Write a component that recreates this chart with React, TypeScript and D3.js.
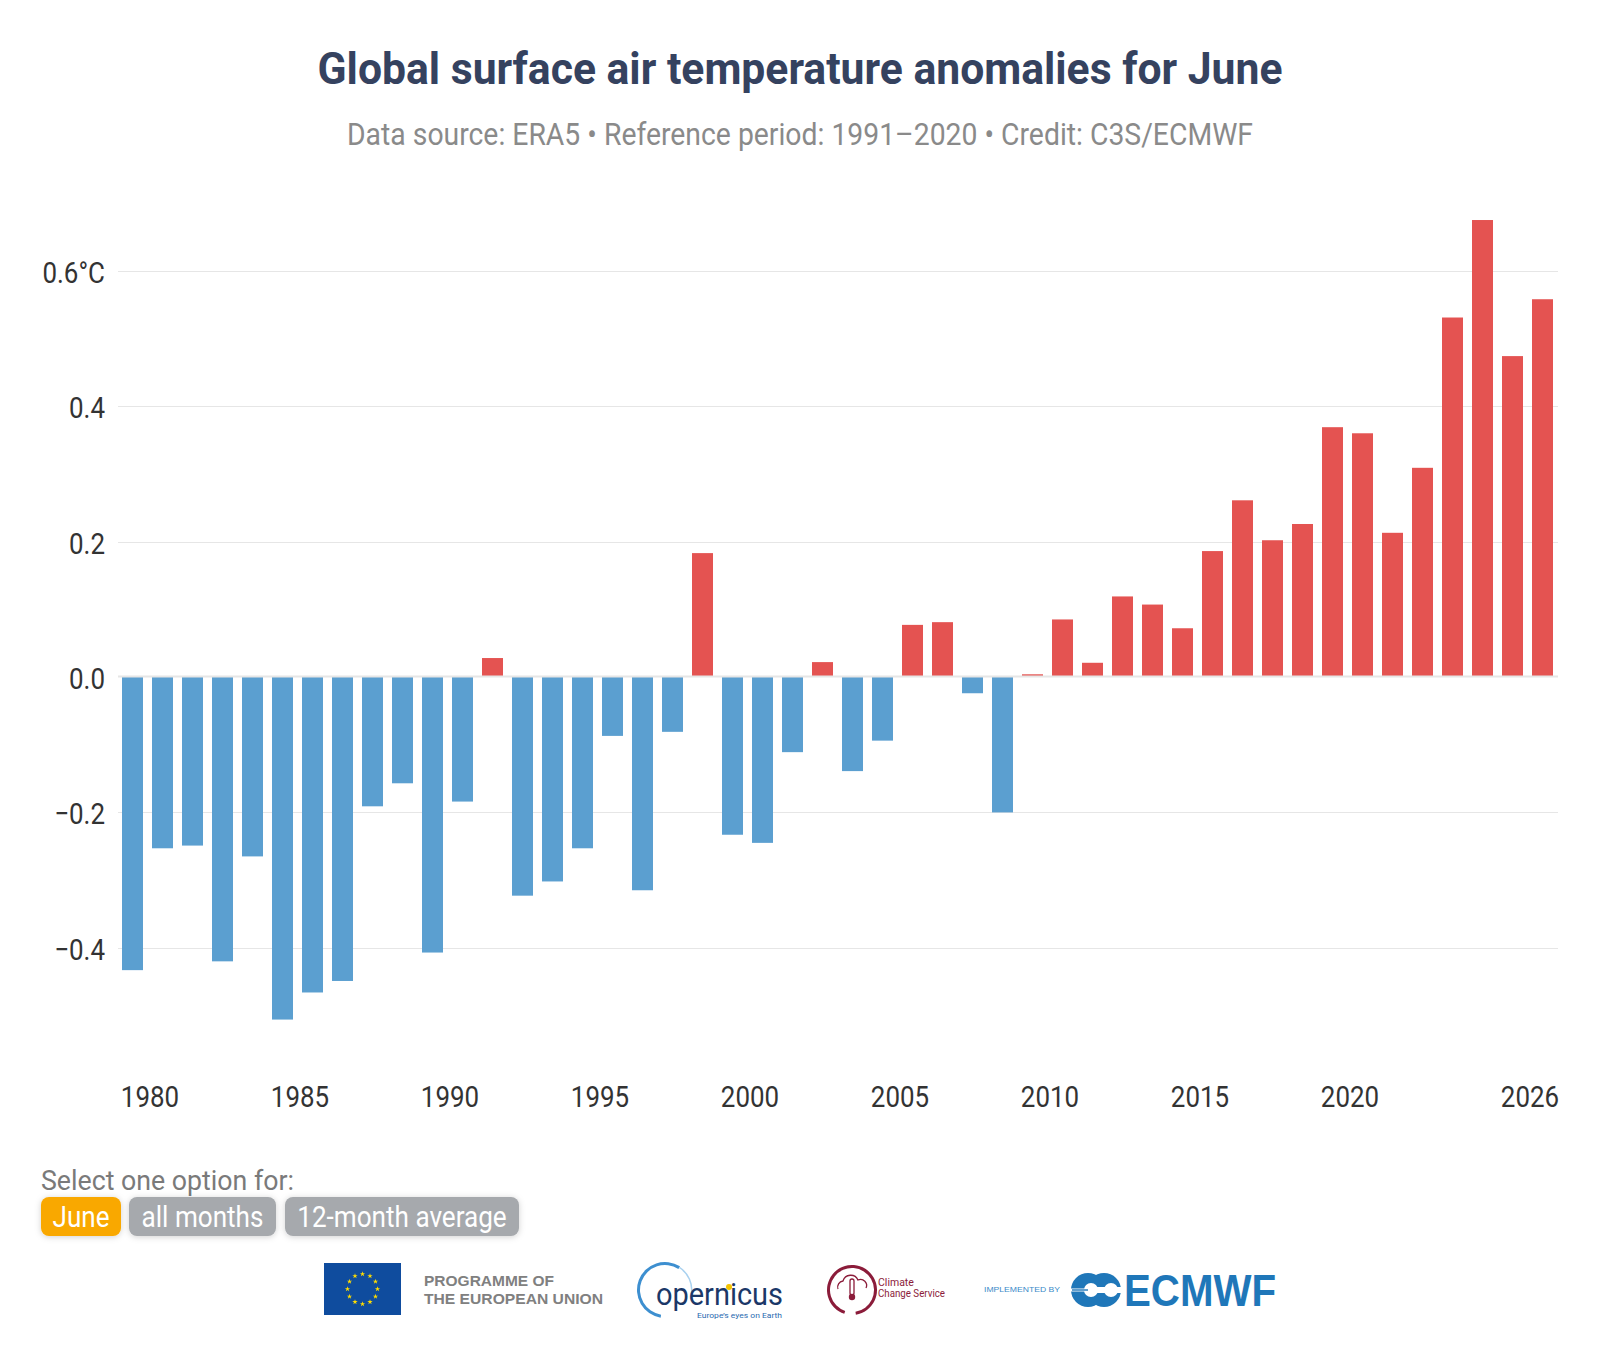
import React from 'react';
import * as d3 from 'd3';

// June global surface air temperature anomalies (°C, vs 1991–2020), ERA5
const years = [
  1979, 1980, 1981, 1982, 1983, 1984, 1985, 1986, 1987, 1988, 1989, 1990,
  1991, 1992, 1993, 1994, 1995, 1996, 1997, 1998, 1999, 2000,
  2001, 2002, 2003, 2004, 2005, 2006, 2007, 2008, 2009, 2010,
  2011, 2012, 2013, 2014, 2015, 2016, 2017, 2018, 2019, 2020,
  2021, 2022, 2023, 2024, 2025, 2026,
];
const anomalies = [
  -0.433, -0.253, -0.249, -0.42, -0.265, -0.506, -0.466, -0.449, -0.191, -0.157, -0.407, -0.184,
  0.028, -0.323, -0.302, -0.253, -0.087, -0.315, -0.081, 0.183, -0.233, -0.245,
  -0.111, 0.022, -0.139, -0.094, 0.077, 0.081, -0.024, -0.2, 0.004, 0.085,
  0.021, 0.119, 0.107, 0.072, 0.186, 0.261, 0.202, 0.226, 0.369, 0.36,
  0.213, 0.309, 0.531, 0.675, 0.474, 0.558,
];
const yTicks = [-0.4, -0.2, 0, 0.2, 0.4, 0.6];
const xTickYears = [1980, 1985, 1990, 1995, 2000, 2005, 2010, 2015, 2020, 2026];
const optionLabels = ['June', 'all months', '12-month average'];

const TITLE = 'Global surface air temperature anomalies for June';
const SUBTITLE = 'Data source: ERA5 \u2022 Reference period: 1991\u20132020 \u2022 Credit: C3S/ECMWF';

const W = 1600;
const H = 1364;
const FONT = 'Roboto, "Open Sans", sans-serif';
const WARM = '#e45351';
const COOL = '#5b9fd0';
const GRID = '#e6e6e6';
const TICK_COLOR = '#333333';
const SQUEEZE = 0.865;

// Time axis in fractional years; each bar sits on the month of June
const x = d3.scaleLinear().domain([1978.9333, 2026.9333]).range([118, 1558]);
const y = d3.scaleLinear().domain([-0.6, 0.7]).range([677 + 0.6 * 677, 677 - 0.7 * 677]);
const JUNE = 5 / 12;
const BAR_W = 21;
const fmt = d3.format('.1f');

function Narrow({ x: tx, y: ty, anchor, size, fill, sx = SQUEEZE, weight = 400, children }: any) {
  return (
    <text
      transform={`translate(${tx},${ty}) scale(${sx},1)`}
      textAnchor={anchor}
      fontSize={size}
      fill={fill}
      fontWeight={weight}
      fontFamily={FONT}
    >
      {children}
    </text>
  );
}

function EuFlag() {
  const cx = 362.5;
  const cy = 1289;
  const star = d3.symbol(d3.symbolStar).size(9)() as string;
  return (
    <g>
      <rect x={324} y={1263} width={77} height={52} fill="#0f4c9e" />
      {d3.range(12).map((i) => {
        const a = (i / 12) * Math.PI * 2;
        return (
          <path key={i} d={star} transform={`translate(${cx + 15 * Math.sin(a)},${cy - 15 * Math.cos(a)})`} fill="#ffdd00" />
        );
      })}
      <text x={424} y={1286} fontFamily="'Liberation Sans', Arial, sans-serif" fontWeight={700} fontSize={15} fill="#808080" textLength={130} lengthAdjust="spacingAndGlyphs">PROGRAMME OF</text>
      <text x={424} y={1304} fontFamily="'Liberation Sans', Arial, sans-serif" fontWeight={700} fontSize={15} fill="#808080" textLength={179} lengthAdjust="spacingAndGlyphs">THE EUROPEAN UNION</text>
    </g>
  );
}

function CopernicusMark() {
  const arc = d3.arc()({ innerRadius: 25, outerRadius: 28, startAngle: -Math.PI * 0.95, endAngle: Math.PI * 0.18 }) as string;
  const arcTop = d3.arc()({ innerRadius: 26, outerRadius: 27.5, startAngle: Math.PI * 0.18 - 0.001, endAngle: Math.PI * 0.55 }) as string;
  return (
    <g>
      <g transform="translate(665,1290)">
        <path d={arc} fill="#3d8fd0" />
        <path d={arcTop} fill="#a9d1ef" />
      </g>
      <text x={656} y={1305} fontFamily={FONT} fontSize={31} fill="#1b3868" textLength={127} lengthAdjust="spacingAndGlyphs">opernicus</text>
      <circle cx={729} cy={1287} r={3} fill="#f5c400" />
      <text x={697} y={1318} fontFamily={FONT} fontSize={8} fill="#2a6ab0" textLength={85} lengthAdjust="spacingAndGlyphs">Europe’s eyes on Earth</text>
    </g>
  );
}

function ClimateMark() {
  const ring = d3.arc()({ innerRadius: 22, outerRadius: 25, startAngle: Math.PI * 0.1, endAngle: Math.PI * 1.95 }) as string;
  return (
    <g>
      <g transform="translate(852,1290)">
        <path d={ring} fill="#8b1c3a" transform="rotate(180)" />
        <path d="M-14,-1 a6,6 0 0 1 5,-8 a8,8 0 0 1 15,-1 a6,6 0 0 1 8,8" fill="none" stroke="#8b1c3a" strokeWidth={1.3} />
        <rect x={-2} y={-11} width={4} height={16} rx={2} fill="none" stroke="#8b1c3a" strokeWidth={1.3} />
        <circle cx={0} cy={7} r={3.2} fill="#8b1c3a" />
      </g>
      <text x={878} y={1286} fontFamily={FONT} fontSize={10.5} fill="#8b1c3a">Climate</text>
      <text x={878} y={1297} fontFamily={FONT} fontSize={10.5} fill="#8b1c3a" textLength={67} lengthAdjust="spacingAndGlyphs">Change Service</text>
    </g>
  );
}

function EcmwfMark() {
  return (
    <g>
      <text x={984} y={1292} fontFamily="'Liberation Sans', Arial, sans-serif" fontSize={8} fill="#3a8ac8" textLength={76} lengthAdjust="spacingAndGlyphs">IMPLEMENTED BY</text>
      <g>
        <circle cx={1088} cy={1290} r={17} fill="#1f77b9" />
        <circle cx={1104} cy={1290} r={17} fill="#1f77b9" />
        <circle cx={1091} cy={1290} r={7} fill="#ffffff" />
        <circle cx={1111} cy={1290} r={7} fill="#ffffff" />
        <rect x={1092} y={1287} width={32} height={6} fill="#ffffff" />
        <rect x={1068} y={1288.5} width={20} height={3} fill="#ffffff" />
        <rect x={1072} y={1289.3} width={16} height={1.4} fill="#1f77b9" />
      </g>
      <text x={1124} y={1306} fontFamily="'Liberation Sans', Arial, sans-serif" fontWeight={700} fontSize={44} fill="#1f77b9" textLength={152} lengthAdjust="spacingAndGlyphs">ECMWF</text>
    </g>
  );
}

export default function App() {
  const zeroY = y(0);
  const buttonRects = [
    { x: 41, w: 80, fill: '#f9a800' },
    { x: 129, w: 147, fill: '#a6a9ad' },
    { x: 285, w: 234, fill: '#a6a9ad' },
  ];
  return (
    <div style={{ position: 'absolute', left: 0, top: 0, width: W, height: H, background: '#fff' }}>
      <svg width={W} height={H} viewBox={`0 0 ${W} ${H}`} style={{ display: 'block' }}>
        <defs>
          <filter id="btnShadow" x="-20%" y="-30%" width="140%" height="180%">
            <feDropShadow dx={0} dy={1} stdDeviation={3} floodColor="#000" floodOpacity={0.18} />
          </filter>
        </defs>
        <rect width={W} height={H} fill="#ffffff" />

        <text x={800} y={84} textAnchor="middle" fontFamily={FONT} fontWeight={700} fontSize={44} fill="#35425f" textLength={965} lengthAdjust="spacingAndGlyphs">{TITLE}</text>
        <text x={800} y={145} textAnchor="middle" fontFamily={FONT} fontSize={31} fill="#8a8a8a" textLength={906} lengthAdjust="spacingAndGlyphs">{SUBTITLE}</text>

        {/* horizontal grid */}
        {yTicks.filter((t) => t !== 0).map((t) => (
          <line key={t} x1={118} x2={1558} y1={Math.round(y(t)) + 0.5} y2={Math.round(y(t)) + 0.5} stroke={GRID} strokeWidth={1} />
        ))}

        {/* bars */}
        {years.map((yr, i) => {
          const v = anomalies[i];
          const cx = x(yr + JUNE);
          const top = v >= 0 ? y(v) : zeroY;
          const h = Math.abs(y(v) - zeroY);
          return <rect key={yr} x={cx - BAR_W / 2} y={top} width={BAR_W} height={h} fill={v >= 0 ? WARM : COOL} />;
        })}

        <line x1={118} x2={1558} y1={zeroY - 0.5} y2={zeroY - 0.5} stroke={GRID} strokeWidth={2} />

        {/* y axis labels */}
        {yTicks.map((t) => (
          <Narrow key={t} x={105} y={y(t) + 12} anchor="end" size={30} fill={TICK_COLOR}>
            {fmt(t) + (t === 0.6 ? '°C' : '')}
          </Narrow>
        ))}

        {/* x axis labels */}
        {xTickYears.map((yr) => (
          <Narrow key={yr} x={x(yr)} y={1107} anchor="middle" size={30} fill={TICK_COLOR}>
            {String(yr)}
          </Narrow>
        ))}

        {/* option selector */}
        <text x={41} y={1190} fontFamily={FONT} fontSize={27} fill="#7a7a7a" textLength={253} lengthAdjust="spacingAndGlyphs">Select one option for:</text>
        {optionLabels.map((lab, i) => {
          const b = buttonRects[i];
          return (
            <g key={lab}>
              <rect x={b.x} y={1197} width={b.w} height={39} rx={8} fill={b.fill} filter="url(#btnShadow)" />
              <Narrow x={b.x + b.w / 2} y={1227} anchor="middle" size={29} sx={0.9} fill="#ffffff">{lab}</Narrow>
            </g>
          );
        })}

        <EuFlag />
        <CopernicusMark />
        <ClimateMark />
        <EcmwfMark />
      </svg>
    </div>
  );
}
